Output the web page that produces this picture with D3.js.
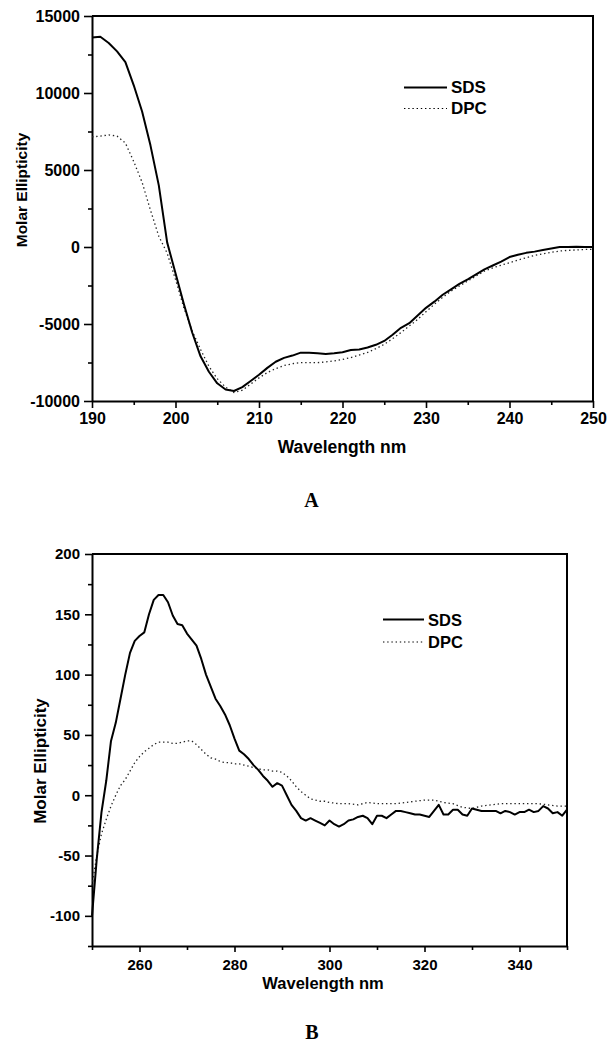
<!DOCTYPE html>
<html><head><meta charset="utf-8">
<script src="https://cdn.jsdelivr.net/npm/d3@7"></script>
<style>
body{margin:0;background:#fff;}
svg{display:block;font-family:"Liberation Sans",Arial,sans-serif;}
</style></head><body>
<svg id="c" width="614" height="1050"></svg>
<script>
// ---------- Panel A (far-UV CD) ----------
const wlA = [190,191,192,193,194,195,196,197,198,199,200,201,202,203,204,205,206,207,208,209,210,211,212,213,214,215,216,217,218,219,220,221,222,223,224,225,226,227,228,229,230,231,232,233,234,235,236,237,238,239,240,241,242,243,244,245,246,247,248,249,250];
const sdsA = [13600,13650,13250,12700,12000,10500,8800,6600,4000,300,-1700,-3700,-5550,-7100,-8100,-8850,-9250,-9350,-9100,-8700,-8300,-7850,-7450,-7200,-7050,-6860,-6860,-6900,-6950,-6900,-6830,-6690,-6650,-6530,-6350,-6100,-5700,-5250,-4950,-4450,-3950,-3550,-3100,-2750,-2400,-2100,-1780,-1450,-1200,-950,-650,-500,-380,-300,-200,-100,0,0,20,0,0];
const dpcA = [7150,7200,7280,7200,6750,5550,4200,2400,700,-400,-2100,-3950,-5450,-6650,-7750,-8550,-9100,-9450,-9300,-8900,-8500,-8150,-7900,-7700,-7580,-7510,-7510,-7510,-7460,-7400,-7300,-7180,-7020,-6850,-6600,-6320,-5950,-5560,-5130,-4700,-4200,-3720,-3270,-2860,-2530,-2210,-1880,-1560,-1350,-1180,-1020,-850,-700,-550,-450,-350,-260,-220,-190,-160,-150];
const xTicksA = [190,200,210,220,230,240,250];
const xMinorA = [195,205,215,225,235,245];
const yTicksA = [-10000,-5000,0,5000,10000,15000];
const yMinorA = [-7500,-2500,2500,7500,12500];

// ---------- Panel B (near-UV CD) ----------
const wlB = [250,251,252,253,254,255,256,257,258,259,260,261,262,263,264,265,266,267,268,269,270,271,272,273,274,275,276,277,278,279,280,281,282,283,284,285,286,287,288,289,290,291,292,293,294,295,296,297,298,299,300,301,302,303,304,305,306,307,308,309,310,311,312,313,314,315,316,317,318,319,320,321,322,323,324,325,326,327,328,329,330,331,332,333,334,335,336,337,338,339,340,341,342,343,344,345,346,347,348,349,350];
const sdsB = [-100,-53,-14,12,45,60,80,100,118,128,132,135,150,162,166,166,160,149,142,141,134,129,124,113,100,90,80,74,67,58,47,37,34,30,25,21,16,12,7,10,8,0,-8,-13,-19,-21,-19,-21,-23,-25,-21,-24,-26,-24,-21,-20,-18,-17,-19,-24,-17,-17,-19,-16,-13,-13,-14,-15,-16,-16,-17,-18,-13,-8,-16,-16,-12,-12,-16,-17,-11,-12,-13,-13,-13,-13,-15,-13,-14,-16,-14,-14,-12,-14,-13,-9,-11,-15,-14,-17,-12];
const wlB2 = [250,251,252,253,254,255,256,257,258,259,260,261,262,263,264,265,266,267,268,269,270,271,272,273,274,275,276,277,278,279,280,281,282,283,284,285,286,287,288,289,290,291,292,293,294,295,296,297,298,299,300,302,304,306,308,310,312,314,316,318,320,322,324,326,328,330,332,334,336,338,340,342,344,346,348,350];
const dpcB = [-75,-50,-32,-20,-9,0,8,13,20,27,32,36,39,42,44,44,44,43,43,44,45,45,42,38,34,31,30,28,27,27,26,26,25,24,23,22,21,21,20,20,19,16,12,7,3,0,-3,-4,-5,-5,-6,-7,-7,-8,-6,-7,-7,-7,-6,-5,-4,-4,-6,-7,-10,-11,-9,-8,-7,-7,-7,-7,-7,-8,-9,-9];
const xTicksB = [260,280,300,320,340];
const xMinorB = [250,270,290,310,330,350];
const yTicksB = [-100,-50,0,50,100,150,200];
const yMinorB = [-125,-75,-25,25,75,125,175];

const seriesNames = ["SDS","DPC"];
const svg = d3.select("#c");
const FONT = '"Liberation Sans",Arial,sans-serif';
const fmt = d => String(d);

function panel(cfg){
  const g = svg.append("g");
  const x = d3.scaleLinear().domain(cfg.xd).range(cfg.xr);
  const y = d3.scaleLinear().domain(cfg.yd).range(cfg.yr);
  const [x0,x1] = cfg.xr, [y0,y1] = cfg.yr; // y0 bottom, y1 top

  // minor ticks
  g.append("g").attr("transform",`translate(0,${y0})`)
    .call(d3.axisBottom(x).tickValues(cfg.xMinor).tickSize(cfg.minorLen).tickFormat(""))
    .call(s=>s.select(".domain").remove());
  g.append("g").attr("transform",`translate(${x0},0)`)
    .call(d3.axisLeft(y).tickValues(cfg.yMinor).tickSize(cfg.minorLen).tickFormat(""))
    .call(s=>s.select(".domain").remove());
  // major
  g.append("g").attr("transform",`translate(0,${y0})`)
    .call(d3.axisBottom(x).tickValues(cfg.xTicks).tickSizeInner(cfg.xMajorLen).tickSizeOuter(0).tickPadding(cfg.xPad).tickFormat(fmt));
  g.append("g").attr("transform",`translate(${x0},0)`)
    .call(d3.axisLeft(y).tickValues(cfg.yTicks).tickSizeInner(cfg.yMajorLen).tickSizeOuter(0).tickPadding(cfg.yPad).tickFormat(fmt));
  g.selectAll(".tick line").attr("stroke","#000").attr("stroke-width",1.6);
  g.selectAll(".domain").attr("stroke","#000").attr("stroke-width",2);
  g.selectAll(".tick text").attr("font-family",FONT).attr("font-weight","bold")
    .attr("font-size",cfg.tickFont).attr("fill","#000");
  // frame top/right
  g.append("path").attr("d",`M${x0},${y1}H${x1}V${y0}`).attr("fill","none")
    .attr("stroke","#000").attr("stroke-width",2);

  // lines
  const line = d3.line().x(d=>x(d[0])).y(d=>y(d[1]));
  g.append("path").datum(cfg.wl2.map((w,i)=>[w,cfg.dpc[i]])).attr("d",line)
    .attr("fill","none").attr("stroke","#222").attr("stroke-width",1.3).attr("stroke-dasharray","1.4,2.8");
  g.append("path").datum(cfg.wl.map((w,i)=>[w,cfg.sds[i]])).attr("d",line)
    .attr("fill","none").attr("stroke","#000").attr("stroke-width",2).attr("stroke-linejoin","round");

  // axis titles
  g.append("text").attr("x",cfg.xtX).attr("y",cfg.xtY).attr("text-anchor","middle")
    .attr("font-family",FONT).attr("font-weight","bold").attr("font-size",cfg.xtFont).text("Wavelength nm");
  g.append("text").attr("transform",`translate(${cfg.ytX},${cfg.ytY}) rotate(-90)`).attr("text-anchor","middle")
    .attr("font-family",FONT).attr("font-weight","bold").attr("font-size",cfg.ytFont).text("Molar Ellipticity");

  // legend
  const L = cfg.leg;
  seriesNames.forEach((n,i)=>{
    const ly = L.y + i*L.dy;
    g.append("line").attr("x1",L.x).attr("x2",L.x+L.len).attr("y1",ly).attr("y2",ly)
      .attr("stroke","#000").attr("stroke-width",i===0?2:1.2)
      .attr("stroke-dasharray",i===0?null:"1.4,2.8");
    g.append("text").attr("x",L.x+L.len+4).attr("y",ly+L.off)
      .attr("font-family",FONT).attr("font-weight","bold").attr("font-size",L.font).text(n);
  });
  // panel letter
  g.append("text").attr("x",cfg.letX).attr("y",cfg.letY).attr("text-anchor","middle")
    .attr("font-family",'"Liberation Serif","Times New Roman",serif').attr("font-weight","bold")
    .attr("font-size",20).text(cfg.letter);
}

panel({xd:[190,250],xr:[92,593],yd:[-10000,15000],yr:[401,16],
  wl:wlA,sds:sdsA,wl2:wlA,dpc:dpcA,
  xTicks:xTicksA,xMinor:xMinorA,yTicks:yTicksA,yMinor:yMinorA,
  minorLen:4,xMajorLen:7,yMajorLen:8,xPad:5,yPad:4,tickFont:16,
  xtX:342,xtY:453,xtFont:17.5,ytX:27,ytY:190,ytFont:15.5,
  leg:{x:404,y:87.5,dy:21,len:43,off:5.5,font:17},
  letX:311.5,letY:507,letter:"A"});

panel({xd:[250,350],xr:[92,567],yd:[-125,200],yr:[946,554],
  wl:wlB,sds:sdsB,wl2:wlB2,dpc:dpcB,
  xTicks:xTicksB,xMinor:xMinorB,yTicks:yTicksB,yMinor:yMinorB,
  minorLen:4,xMajorLen:6,yMajorLen:7,xPad:7.3,yPad:5,tickFont:15,
  xtX:323,xtY:989,xtFont:16.5,ytX:46,ytY:761,ytFont:17,
  leg:{x:383,y:619.5,dy:22.5,len:41,off:6,font:16.5},
  letX:312,letY:1039,letter:"B"});
</script>
</body></html>
